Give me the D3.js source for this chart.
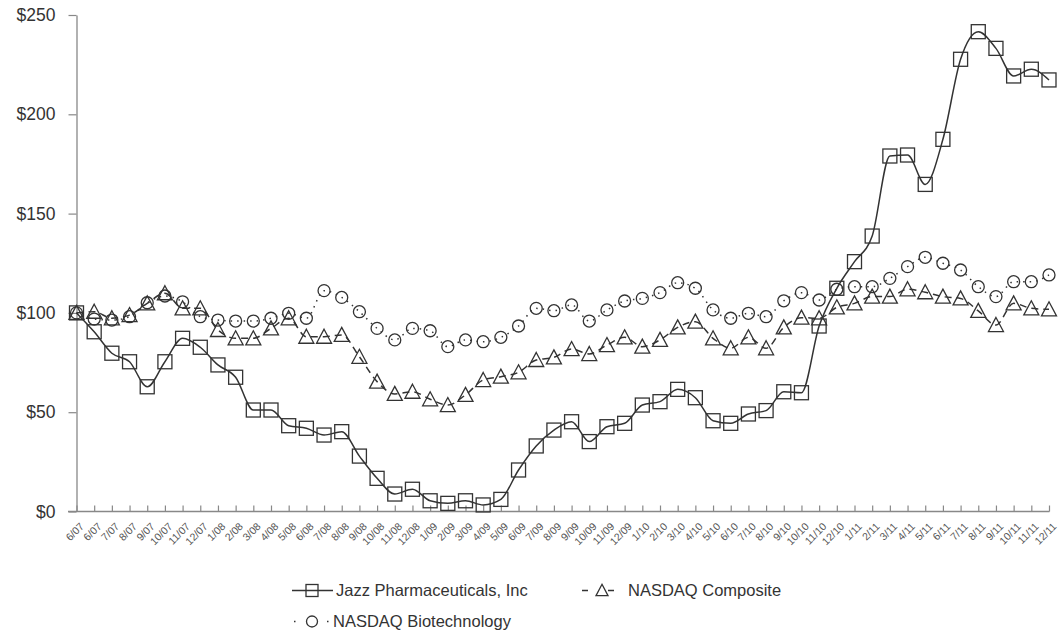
<!DOCTYPE html>
<html>
<head>
<meta charset="utf-8">
<script src="https://cdn.jsdelivr.net/npm/d3@7"></script>
<style>
  body { margin: 0; background: #fff; }
  text { font-family: "Liberation Sans", Arial, sans-serif; }
</style>
</head>
<body>
<script>
var canvasWidth = 1061;
var canvasHeight = 640;

// month labels (first two are both 6/07: IPO date and month end)
var months = ["6/07","6/07","7/07","8/07","9/07","10/07","11/07","12/07",
  "1/08","2/08","3/08","4/08","5/08","6/08","7/08","8/08","9/08","10/08","11/08","12/08",
  "1/09","2/09","3/09","4/09","5/09","6/09","7/09","8/09","9/09","10/09","11/09","12/09",
  "1/10","2/10","3/10","4/10","5/10","6/10","7/10","8/10","9/10","10/10","11/10","12/10",
  "1/11","2/11","3/11","4/11","5/11","6/11","7/11","8/11","9/11","10/11","11/11","12/11"];

var jazz = [100, 90.5, 79.7, 75.4, 62.8, 75.4, 87.2, 82.7, 73.8, 67.6, 51.1, 51.1, 43.2, 41.9,
  38.5, 40.2, 27.9, 16.7, 8.8, 11.2, 5.4, 4.1, 5.4, 3.3, 6.1, 20.9, 33, 41,
  45.2, 35.2, 42.7, 44.4, 53.6, 55.3, 61.5, 57.3, 45.7, 44.4, 49.1, 50.8, 60.3, 59.8,
  93.4, 112.4, 125.8, 138.7, 179, 179.5, 164.7, 187.4, 227.7, 241.6, 233.2, 219.3, 222.7, 217.3];

var composite = [100, 100.6, 97.3, 98.9, 104.8, 109.9, 102.3, 102.3, 91.4, 87.2, 87.2, 92.2, 97.3, 88,
  88, 88.9, 77.9, 65.4, 59.2, 60.3, 56.5, 53.6, 58.7, 66.2, 67.9, 70.1, 76.3, 77.6,
  81.8, 79.3, 83.8, 87.7, 83, 86.4, 92.7, 95.6, 87.2, 82.2, 87.7, 82.2, 92.7, 97.6,
  97.3, 102.8, 104.8, 108.2, 108.2, 111.9, 110.4, 108.2, 107.3, 101, 93.9, 104.8, 102.3, 101.8];

var biotech = [100, 96.9, 96.4, 98.1, 105.1, 108.5, 105.6, 98.1, 96.4, 95.9, 95.9, 97.3, 99.8, 97.3,
  111.2, 107.8, 100.6, 92.2, 86.4, 92.2, 91, 83, 86.4, 85.5, 87.7, 93.4, 102.3, 101.1,
  104, 95.9, 101.5, 106, 107.3, 110.2, 115.2, 112.4, 101.5, 97.3, 99.8, 98.1, 106.1, 110.2,
  106.5, 111.9, 113.2, 113.2, 117.4, 123.3, 128, 125, 121.6, 113.2, 108.2, 115.7, 115.7, 119.1];

var yTicks = [0, 50, 100, 150, 200, 250];

var seriesNames = ["Jazz Pharmaceuticals, Inc", "NASDAQ Composite", "NASDAQ Biotechnology"];

var ink = "#333";

var svg = d3.select("body").append("svg")
    .attr("width", canvasWidth)
    .attr("height", canvasHeight);

var xScale = d3.scalePoint().domain(d3.range(months.length)).range([76.5, 1049]);
var yScale = d3.scaleLinear().domain([0, 250]).range([511.5, 15]);

// X axis (ticks point upward)
var xAxis = svg.append("g")
    .attr("transform", "translate(0," + yScale(0) + ")")
    .call(d3.axisBottom(xScale).tickSize(-6).tickSizeOuter(0).tickFormat(i => months[i]));
xAxis.select(".domain").remove();
xAxis.append("line")
    .attr("x1", 68).attr("x2", 1049.5)
    .attr("stroke", "#888").attr("stroke-width", 1.3);
xAxis.selectAll(".tick line").attr("stroke", "#888").attr("stroke-width", 1.2);
xAxis.selectAll(".tick text")
    .attr("y", 0).attr("dy", "0.35em").attr("x", 0)
    .attr("transform", "translate(5,13) rotate(-45)")
    .attr("text-anchor", "end")
    .attr("font-size", "10.5px")
    .attr("fill", "#555");

// Y axis
var yAxis = svg.append("g")
    .attr("transform", "translate(76.5,0)")
    .call(d3.axisLeft(yScale).tickValues(yTicks).tickSize(8).tickSizeOuter(0).tickPadding(13)
        .tickFormat(d => "$" + d));
yAxis.select(".domain").attr("stroke", "#888").attr("stroke-width", 1.3);
yAxis.selectAll(".tick line").attr("stroke", "#888").attr("stroke-width", 1.2);
yAxis.selectAll(".tick text").attr("font-size", "17.5px").attr("fill", "#333");

var line = d3.line()
    .x((d, i) => xScale(i))
    .y(d => yScale(d))
    .curve(d3.curveMonotoneX);

// marker drawing helpers
function square(g, x, y, s) {
    g.append("rect").attr("x", x - s / 2).attr("y", y - s / 2)
        .attr("width", s).attr("height", s)
        .attr("fill", "none").attr("stroke", ink).attr("stroke-width", 1.3);
}
function triangle(g, x, y, s) {
    var h = s * 0.87;
    g.append("path")
        .attr("d", "M" + x + "," + (y - h / 2 - 1) + "L" + (x + s / 2) + "," + (y + h / 2) +
            "L" + (x - s / 2) + "," + (y + h / 2) + "Z")
        .attr("fill", "none").attr("stroke", ink).attr("stroke-width", 1.3);
}
function circle(g, x, y, s) {
    g.append("circle").attr("cx", x).attr("cy", y).attr("r", s / 2)
        .attr("fill", "none").attr("stroke", ink).attr("stroke-width", 1.3);
}

var series = [
    { values: biotech, dash: "1.5,5", marker: circle, size: 12 },
    { values: composite, dash: "7,5", marker: triangle, size: 15 },
    { values: jazz, dash: null, marker: square, size: 14 }
];

series.forEach(function(s) {
    svg.append("path")
        .datum(s.values)
        .attr("d", line)
        .attr("fill", "none")
        .attr("stroke", ink)
        .attr("stroke-width", 1.5)
        .attr("stroke-dasharray", s.dash);
    var g = svg.append("g");
    s.values.forEach(function(v, i) {
        s.marker(g, xScale(i), yScale(v), s.size);
    });
});

// Legend
var legend = svg.append("g");
var legendItems = [
    { x1: 292, x2: 333, mx: 312, y: 590.5, dash: null, marker: square, size: 12, name: seriesNames[0], tx: 336 },
    { x1: 582, x2: 615, mx: 602, y: 590.5, dash: "6,20", marker: triangle, size: 12, name: seriesNames[1], tx: 628 },
    { x1: 294, x2: 329, mx: 312, y: 621.5, dash: "1.5,31.5", marker: circle, size: 11, name: seriesNames[2], tx: 333 }
];
legendItems.forEach(function(d) {
    legend.append("line")
        .attr("x1", d.x1).attr("x2", d.x2)
        .attr("y1", d.y).attr("y2", d.y)
        .attr("stroke", ink).attr("stroke-width", 1.5)
        .attr("stroke-dasharray", d.dash);
    d.marker(legend, d.mx, d.y, d.size);
    legend.append("text")
        .attr("x", d.tx).attr("y", d.y)
        .attr("dy", "0.35em")
        .attr("font-size", "16.5px")
        .attr("fill", "#333")
        .text(d.name);
});
</script>
</body>
</html>
